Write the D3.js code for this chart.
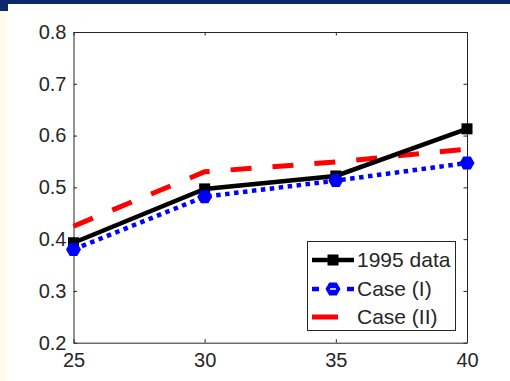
<!DOCTYPE html>
<html>
<head>
<meta charset="utf-8">
<script src="https://cdn.jsdelivr.net/npm/d3@7"></script>
<style>
  html, body { margin: 0; padding: 0; background: #ffffff; }
  svg { display: block; }
  text { font-family: "Liberation Sans", Arial, sans-serif; }
</style>
</head>
<body>
<script>
// Age groups on the x axis
const ages = [25, 30, 35, 40];
// Series values
const data1995 = [0.393, 0.497, 0.522, 0.613];
const caseI = [0.380, 0.482, 0.513, 0.547];
const caseII = [0.425, 0.530, 0.549, 0.574];
// Tick values
const xTicks = [25, 30, 35, 40];
const yTicks = [0.2, 0.3, 0.4, 0.5, 0.6, 0.7, 0.8];
const legendLabels = ["1995 data", "Case (I)", "Case (II)"];

const W = 510, H = 381;
const svg = d3.select("body").append("svg").attr("width", W).attr("height", H);

// Slide frame: navy band across the top, cream strip down the left
svg.append("rect").attr("x", 0).attr("y", 0).attr("width", W).attr("height", H).attr("fill", "#ffffff");
svg.append("rect").attr("x", 0).attr("y", 0).attr("width", 7).attr("height", H).attr("fill", "#fffbec");
svg.append("rect").attr("x", 0).attr("y", 0).attr("width", W).attr("height", 4).attr("fill", "#0b2a6e");
svg.append("rect").attr("x", 0).attr("y", 0).attr("width", 8).attr("height", 11).attr("fill", "#0b2a6e");

const plotL = 73.5, plotR = 467, plotT = 32, plotB = 342.7;
const x = d3.scaleLinear().domain([25, 40]).range([plotL, plotR]);
const y = d3.scaleLinear().domain([0.2, 0.8]).range([plotB, plotT]);

const axisColor = "#262626";
const tickLen = 3.5;

// Box axes with inward ticks on all four sides
const g = svg.append("g");
const xAxisB = d3.axisBottom(x).tickValues(xTicks).tickSizeInner(-tickLen).tickSizeOuter(0).tickPadding(10).tickFormat(d3.format("d"));
const xAxisT = d3.axisTop(x).tickValues(xTicks).tickSizeInner(-tickLen).tickSizeOuter(0).tickFormat("");
const yAxisL = d3.axisLeft(y).tickValues(yTicks).tickSizeInner(-tickLen).tickSizeOuter(0).tickPadding(7).tickFormat(d3.format(".1f"));
const yAxisR = d3.axisRight(y).tickValues(yTicks).tickSizeInner(-tickLen).tickSizeOuter(0).tickFormat("");

function styleAxis(sel) {
  sel.attr("font-family", null).attr("font-size", null);
  sel.selectAll("path").attr("stroke", axisColor).attr("stroke-width", 1);
  sel.selectAll("line").attr("stroke", axisColor).attr("stroke-width", 1);
  sel.selectAll("text").attr("fill", axisColor).style("font-size", "20px");
}
g.append("g").attr("transform", `translate(0,${plotB})`).call(xAxisB).call(styleAxis)
  .selectAll("text").attr("dy", "0.71em");
g.append("g").attr("transform", `translate(0,${plotT})`).call(xAxisT).call(styleAxis);
g.append("g").attr("transform", `translate(${plotL},0)`).call(yAxisL).call(styleAxis);
g.append("g").attr("transform", `translate(${plotR},0)`).call(yAxisR).call(styleAxis);

const line = d3.line().x((d, i) => x(ages[i])).y(d => y(d));

// Case (II): red dashed, no markers
svg.append("path").datum(caseII).attr("d", line)
  .attr("fill", "none").attr("stroke", "#ff0000").attr("stroke-width", 5)
  .attr("stroke-dasharray", "21,21");

// 1995 data: black solid with square markers
svg.append("path").datum(data1995).attr("d", line)
  .attr("fill", "none").attr("stroke", "#000000").attr("stroke-width", 4.5);

// Case (I): blue dotted with hexagon markers
svg.append("path").datum(caseI).attr("d", line)
  .attr("fill", "none").attr("stroke", "#0000ff").attr("stroke-width", 4.5)
  .attr("stroke-dasharray", "4.5,4.5");

const hexPath = (r) => {
  const pts = d3.range(6).map(k => [r * Math.cos(k * Math.PI / 3), r * Math.sin(k * Math.PI / 3)]);
  return "M" + pts.map(p => p.join(",")).join("L") + "Z";
};

svg.append("g").selectAll("rect").data(data1995).join("rect")
  .attr("x", (d, i) => x(ages[i]) - 5.5).attr("y", d => y(d) - 5.5)
  .attr("width", 11).attr("height", 11).attr("fill", "#000000");

svg.append("g").selectAll("path").data(caseI).join("path")
  .attr("transform", (d, i) => `translate(${x(ages[i])},${y(d)})`)
  .attr("d", hexPath(7.5)).attr("fill", "#0000ff");

// Legend
const lg = svg.append("g");
lg.append("rect").attr("x", 307.5).attr("y", 241.5).attr("width", 148).attr("height", 89)
  .attr("fill", "#ffffff").attr("stroke", axisColor).attr("stroke-width", 1);
const rowsY = [260, 289, 317];
// black row
lg.append("line").attr("x1", 312).attr("x2", 354).attr("y1", rowsY[0]).attr("y2", rowsY[0])
  .attr("stroke", "#000").attr("stroke-width", 4.5);
lg.append("rect").attr("x", 333 - 5.5).attr("y", rowsY[0] - 5.5).attr("width", 11).attr("height", 11).attr("fill", "#000");
// blue row
lg.append("line").attr("x1", 312).attr("x2", 354).attr("y1", rowsY[1]).attr("y2", rowsY[1])
  .attr("stroke", "#0000ff").attr("stroke-width", 4.5).attr("stroke-dasharray", "7,28");
lg.append("path").attr("transform", `translate(333,${rowsY[1]})`).attr("d", hexPath(7.5)).attr("fill", "#0000ff");
lg.append("line").attr("x1", 330).attr("x2", 336).attr("y1", rowsY[1]).attr("y2", rowsY[1])
  .attr("stroke", "#ffffff").attr("stroke-width", 1.5);
// red row
lg.append("line").attr("x1", 312).attr("x2", 338).attr("y1", rowsY[2]).attr("y2", rowsY[2])
  .attr("stroke", "#ff0000").attr("stroke-width", 5);

lg.selectAll("text.lab").data(legendLabels).join("text").attr("class", "lab")
  .attr("x", 357).attr("y", (d, i) => rowsY[i]).attr("dy", "0.35em")
  .attr("fill", axisColor).style("font-size", "21px").text(d => d);
</script>
</body>
</html>
